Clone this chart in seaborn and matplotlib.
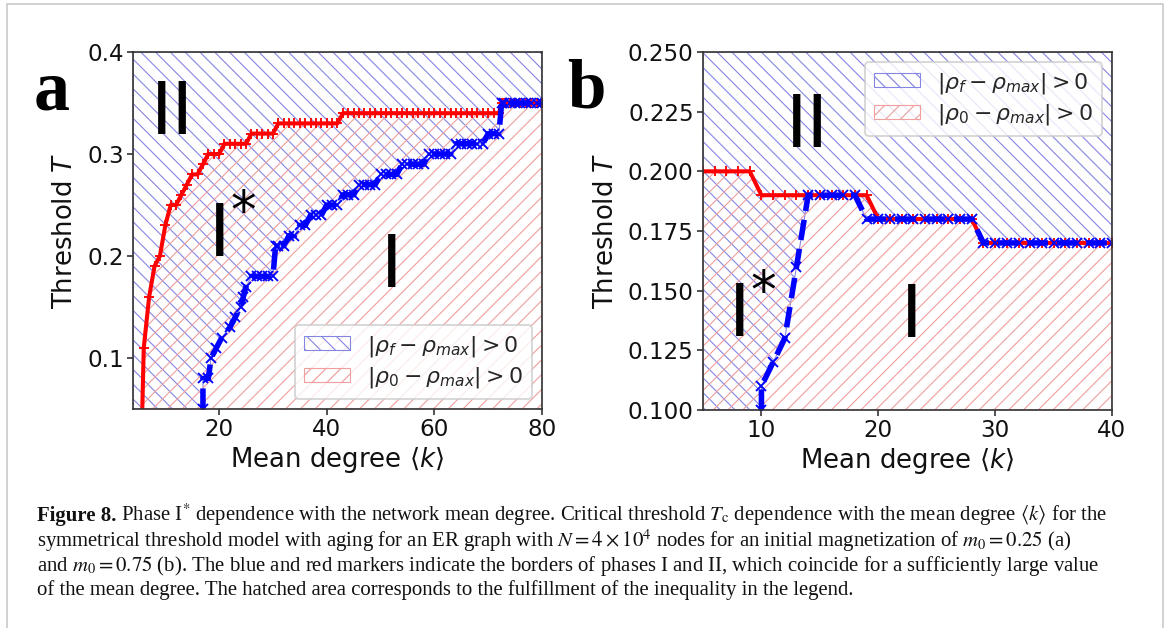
import numpy as np
import matplotlib
matplotlib.use("Agg")
import matplotlib.pyplot as plt
import seaborn as sns
from matplotlib.patches import Rectangle

# ---------------- data ----------------
# panel a : m0 = 0.25
a_red_k = [5.5, 6, 7, 8, 9, 10, 11, 12, 13, 14, 15, 16, 17, 18, 19, 20, 21, 22, 23, 24, 25,
           26, 27, 28, 29, 30, 31, 32, 33, 34, 35, 36, 37, 38, 39, 40, 41, 42, 43, 44, 45,
           46, 47, 48, 49, 50, 51, 52, 53, 54, 55, 56, 57, 58, 59, 60, 61, 62, 63, 64, 65,
           66, 67, 68, 69, 70, 71, 72, 72.5, 73, 74, 75, 76, 77, 78, 79, 80]
a_red_T = [0.00, 0.11, 0.16, 0.19, 0.20, 0.23, 0.25, 0.25, 0.26, 0.27, 0.28, 0.28, 0.29, 0.30,
           0.30, 0.30, 0.31, 0.31, 0.31, 0.31, 0.31, 0.32, 0.32, 0.32, 0.32, 0.32,
           0.33, 0.33, 0.33, 0.33, 0.33, 0.33, 0.33, 0.33, 0.33, 0.33, 0.33, 0.33,
           0.34, 0.34, 0.34, 0.34, 0.34, 0.34, 0.34, 0.34, 0.34, 0.34, 0.34, 0.34, 0.34, 0.34,
           0.34, 0.34, 0.34, 0.34, 0.34, 0.34, 0.34, 0.34, 0.34, 0.34, 0.34, 0.34, 0.34, 0.34,
           0.34, 0.34, 0.35, 0.35, 0.35, 0.35, 0.35, 0.35, 0.35, 0.35, 0.35]
a_blue_k = [17, 17, 18, 18.5, 19.5, 20.5, 22, 23, 24, 24.5, 25, 26, 27, 28, 29, 30, 30.5,
            31, 32, 33, 34, 35, 36, 37, 38, 39, 40, 41, 42, 43, 44, 45, 46, 47, 48, 49, 50,
            51, 52, 53, 54, 55, 56, 57, 58, 59, 60, 61, 62, 63, 64, 65, 66, 67, 68, 69, 70,
            71, 72, 72.5, 73, 74, 75, 76, 77, 78, 79, 80]
a_blue_T = [0.05, 0.08, 0.08, 0.10, 0.11, 0.12, 0.13, 0.14, 0.15, 0.16, 0.17, 0.18, 0.18,
            0.18, 0.18, 0.18, 0.21, 0.21, 0.21, 0.22, 0.22, 0.23, 0.23, 0.24, 0.24, 0.24,
            0.25, 0.25, 0.25, 0.26, 0.26, 0.26, 0.27, 0.27, 0.27, 0.27, 0.28, 0.28, 0.28,
            0.28, 0.29, 0.29, 0.29, 0.29, 0.29, 0.30, 0.30, 0.30, 0.30, 0.30, 0.31, 0.31,
            0.31, 0.31, 0.31, 0.31, 0.32, 0.32, 0.32, 0.35, 0.35, 0.35, 0.35, 0.35, 0.35,
            0.35, 0.35, 0.35]

# panel b : m0 = 0.75
b_red_k = [5, 6, 7, 8, 9, 10, 11, 12, 13, 14, 15, 16, 17, 18, 19, 20, 21, 22, 23, 24, 25,
           26, 27, 28, 29, 30, 31, 32, 33, 34, 35, 36, 37, 38, 39, 40]
b_red_T = [0.20, 0.20, 0.20, 0.20, 0.20, 0.19, 0.19, 0.19, 0.19, 0.19, 0.19, 0.19, 0.19,
           0.19, 0.19, 0.18, 0.18, 0.18, 0.18, 0.18, 0.18, 0.18, 0.18, 0.18, 0.17, 0.17,
           0.17, 0.17, 0.17, 0.17, 0.17, 0.17, 0.17, 0.17, 0.17, 0.17]
b_blue_k = [10, 10, 11, 12, 13, 14, 15, 16, 17, 18, 19, 20, 21, 22, 23, 24, 25, 26, 27, 28,
            29, 30, 31, 32, 33, 34, 35, 36, 37, 38, 39, 40]
b_blue_T = [0.10, 0.11, 0.12, 0.13, 0.16, 0.19, 0.19, 0.19, 0.19, 0.19, 0.18, 0.18, 0.18,
            0.18, 0.18, 0.18, 0.18, 0.18, 0.18, 0.18, 0.17, 0.17, 0.17, 0.17, 0.17, 0.17,
            0.17, 0.17, 0.17, 0.17, 0.17, 0.17]

a_xticks = [20, 40, 60, 80]
a_yticks = [0.1, 0.2, 0.3, 0.4]
b_xticks = [10, 20, 30, 40]
b_yticks = [0.100, 0.125, 0.150, 0.175, 0.200, 0.225, 0.250]

label_f = r"$|\rho_f - \rho_{max}| > 0$"
label_0 = r"$|\rho_0 - \rho_{max}| > 0$"

caption_bold = "Figure 8."
caption_lines = [
    r" Phase I$^{*}$ dependence with the network mean degree. Critical threshold $T_\mathrm{c}$ dependence with the mean degree $\langle k\rangle$ for the",
    r"symmetrical threshold model with aging for an ER graph with $N = 4\times10^4$ nodes for an initial magnetization of $m_0 = 0.25$ (a)",
    r"and $m_0 = 0.75$ (b). The blue and red markers indicate the borders of phases I and II, which coincide for a sufficiently large value",
    r"of the mean degree. The hatched area corresponds to the fulfillment of the inequality in the legend.",
]

# ---------------- style ----------------
W, H = 1167, 628
DPI = 400 / 3


def px(p):
    return p * 72.0 / DPI


sns.set_theme(style="ticks")
plt.rcParams["font.family"] = ["DejaVu Sans"]
plt.rcParams["hatch.linewidth"] = 0.6
plt.rcParams["axes.edgecolor"] = "#333333"
plt.rcParams["axes.linewidth"] = 0.9

fig = plt.figure(figsize=(W / DPI, H / DPI), dpi=DPI)
fig.patch.set_facecolor("white")


def add_axes_px(left, right, top, bottom):
    return fig.add_axes([left / W, 1 - bottom / H, (right - left) / W, (bottom - top) / H])


axA = add_axes_px(133, 542, 52, 409)
axB = add_axes_px(703, 1112, 52, 410)

BLUE_H = "#8585e4"
RED_H = "#f09e9e"


def draw_panel(ax, xlim, ylim, rk, rT, bk, bT, xt, yt, yfmt, legloc):
    ax.set_xlim(*xlim)
    ax.set_ylim(*ylim)
    # hatched regions
    ax.fill_between([xlim[0]] + list(bk), [ylim[0]] + list(bT), ylim[1],
                    facecolor="none", edgecolor=BLUE_H, hatch="\\\\\\", linewidth=0.6,
                    label=label_f, zorder=1)
    ax.fill_between(rk, ylim[0], rT, facecolor="none", edgecolor=RED_H, hatch="///",
                    linewidth=0.6, label=label_0, zorder=1)
    # borders
    sns.lineplot(x=rk, y=rT, ax=ax, color="#ff0000", linewidth=2.2, marker="+",
                 markersize=5, markeredgewidth=1.0, markeredgecolor="#ff0000",
                 estimator=None, sort=False, zorder=3)
    sns.lineplot(x=bk, y=bT, ax=ax, color="#0000ff", linewidth=3.0, linestyle="--",
                 marker="x", markersize=5, markeredgewidth=1.0, markeredgecolor="#0000ff",
                 estimator=None, sort=False, zorder=4)
    ax.set_xticks(xt)
    ax.set_yticks(yt)
    ax.set_yticklabels([yfmt.format(v) for v in yt])
    ax.tick_params(labelsize=px(23), length=3, width=0.9, color="#333333",
                   labelcolor="#111111", pad=2)
    ax.set_xlabel(r"Mean degree $\langle k\rangle$", fontsize=px(26), labelpad=2,
                  color="#111111")
    ax.set_ylabel(r"Threshold $T$", fontsize=px(26), labelpad=5, color="#111111")
    leg = ax.legend(loc=legloc, fontsize=px(22), handlelength=2.1, handleheight=0.6,
                    borderaxespad=0.45, framealpha=0.8, fancybox=True,
                    edgecolor="#cccccc", borderpad=0.4, labelspacing=0.3)
    leg.set_zorder(10)
    for sp in ax.spines.values():
        sp.set_zorder(11)


draw_panel(axA, (4, 80), (0.05, 0.4), a_red_k, a_red_T, a_blue_k, a_blue_T,
           a_xticks, a_yticks, "{:.1f}", "lower right")
draw_panel(axB, (5, 40), (0.1, 0.25), b_red_k, b_red_T, b_blue_k, b_blue_T,
           b_xticks, b_yticks, "{:.3f}", "upper right")


def ftext(x, y, s, **kw):
    return fig.text(x / W, 1 - y / H, s, **kw)


NUM = px(73)
# panel a region labels
ftext(172, 134, "II", fontsize=NUM, ha="center", va="baseline", color="black", zorder=20)
ftext(208, 257, r"I$^{*}$", fontsize=NUM, ha="left", va="baseline", color="black", zorder=20)
ftext(392, 287, "I", fontsize=NUM, ha="center", va="baseline", color="black", zorder=20)
# panel b region labels
ftext(807, 147, "II", fontsize=NUM, ha="center", va="baseline", color="black", zorder=20)
ftext(728, 337, r"I$^{*}$", fontsize=NUM, ha="left", va="baseline", color="black", zorder=20)
ftext(912, 337, "I", fontsize=NUM, ha="center", va="baseline", color="black", zorder=20)

# panel letters
ftext(34, 110, "a", fontsize=px(72), family="Liberation Serif", weight="bold",
      ha="left", va="baseline", color="black")
ftext(567, 108, "b", fontsize=px(69), family="Liberation Serif", weight="bold",
      ha="left", va="baseline", color="black")

# caption
renderer = fig.canvas.get_renderer()
cap_size = px(20.8)
cap_kw = dict(family="Liberation Serif", math_fontfamily="stix", va="baseline",
              ha="left", color="#111111")
baselines = [521, 547, 571, 595]
tb = ftext(37, baselines[0], caption_bold, fontsize=cap_size, weight="bold", **cap_kw)
x_after = tb.get_window_extent(renderer).x1
fig.text(x_after / W, 1 - baselines[0] / H, caption_lines[0], fontsize=cap_size, **cap_kw)
for yb, line in zip(baselines[1:], caption_lines[1:]):
    ftext(37, yb, line, fontsize=cap_size, **cap_kw)

# light frame around the figure
fig.add_artist(Rectangle((7 / W, -0.05), (1163 - 7) / W, 1.05 - 4 / H,
                         transform=fig.transFigure, fill=False,
                         edgecolor="#c4c4c4", linewidth=px(1.5)))

fig.savefig("out.png", dpi=DPI, facecolor="white")
